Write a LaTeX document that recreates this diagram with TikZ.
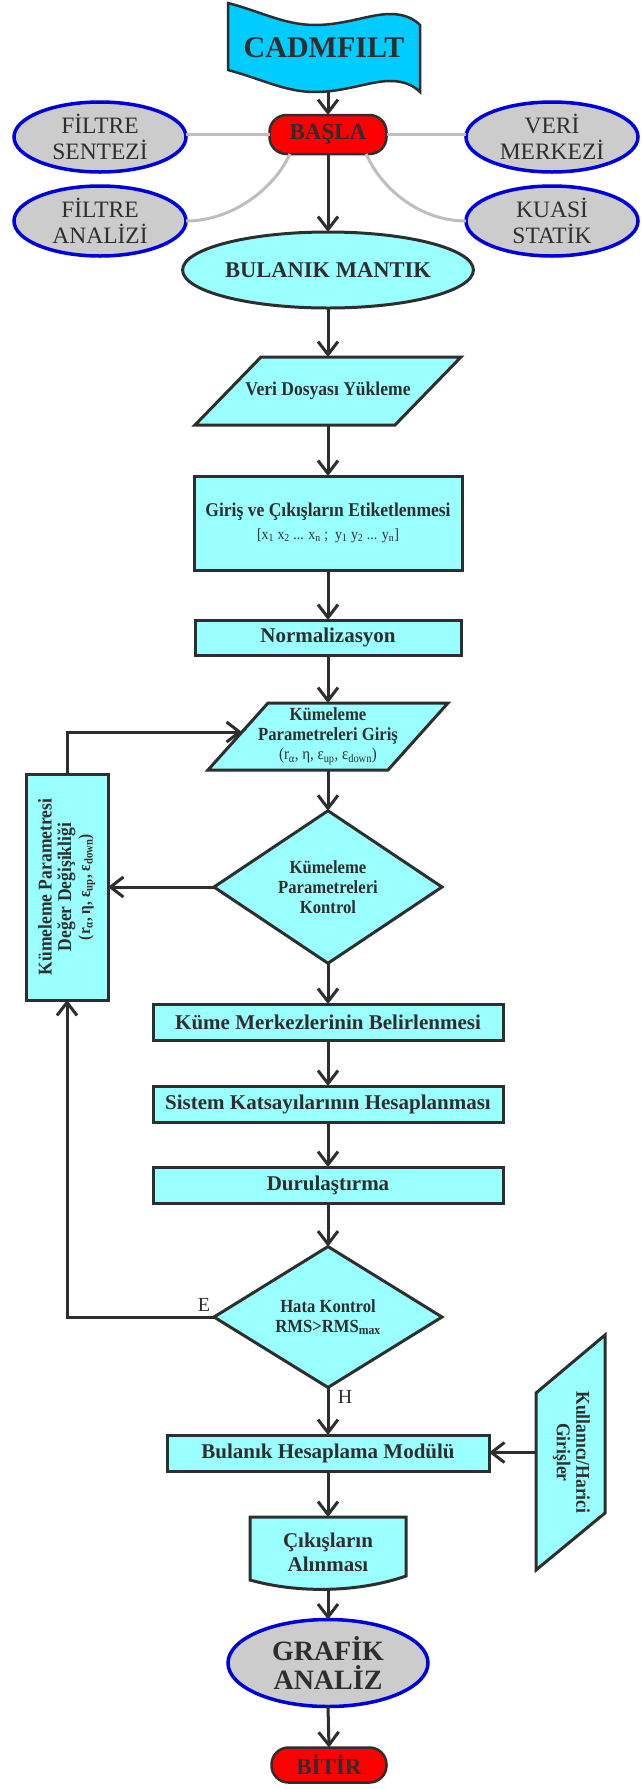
\documentclass[tikz,border=0pt]{standalone}
\usepackage{fontspec}
\usepackage{graphicx}
\setmainfont{Liberation Serif}
\newfontfamily\condfont[FakeStretch=0.9]{Liberation Serif}
\usetikzlibrary{shapes.geometric,arrows.meta}
\definecolor{cyanbox}{HTML}{99FFFF}
\definecolor{flagblue}{HTML}{00CCFF}
\definecolor{redbox}{HTML}{FF0000}
\definecolor{grayfill}{HTML}{CCCCCC}
\definecolor{blueedge}{HTML}{0000DD}
\definecolor{ink}{HTML}{2E2E2E}
\definecolor{linkgray}{HTML}{BEBEBE}
\newcommand{\fsz}[2]{\fontsize{#1}{#2}\selectfont}
\begin{document}
\begin{tikzpicture}[x=1pt,y=-1pt,
  every node/.style={text=ink,inner sep=0pt,outer sep=0pt},
  cyanshape/.style={draw=ink,line width=3pt,fill=cyanbox,line join=miter},
  procbox/.style={cyanshape,rectangle,align=center,font=\bfseries\fsz{21}{24}},
  decide/.style={cyanshape,diamond,align=center,minimum width=228pt,minimum height=136pt,font=\condfont\bfseries\fsz{18.5}{20}},
  termbox/.style={draw=ink,line width=2.5pt,fill=redbox,rectangle,rounded corners=17pt,font=\bfseries\fsz{23}{26}},
  bubble/.style={ellipse,draw=blueedge,line width=3.5pt,fill=grayfill,align=center,minimum width=172pt,minimum height=70pt,font=\fsz{23.5}{26}},
  ghost/.style={rectangle,align=center},
  arr/.style={draw=ink,line width=3pt,-{Straight Barb[length=13pt,width=20pt]}},
  link/.style={draw=linkgray,line width=3pt},
  lbl/.style={font=\fsz{20}{22}},
]
\fill[white] (0,0) rectangle (641,1789);
\useasboundingbox (0,0) rectangle (641,1789);

% ---- header flag
\draw[draw=ink,line width=2.5pt,fill=flagblue,line join=miter]
 (228,3) .. controls (262,12) and (285,25) .. (315,25)
 .. controls (345,25) and (370,14) .. (390,14)
 .. controls (405,14) and (414,19) .. (420,25) -- (420,92)
 .. controls (414,86) and (405,81) .. (390,81)
 .. controls (370,81) and (345,92) .. (315,92)
 .. controls (285,92) and (262,79) .. (228,70) -- cycle;
\node[ghost,minimum width=192pt,minimum height=89pt,font=\bfseries\fsz{30}{34}] (flag) at (324,47.5) {CADMFILT};

% ---- start
\node[termbox,minimum width=117pt,minimum height=39pt] (basla) at (328,134.5) {BAŞLA};

% ---- side bubbles
\node[bubble] (fs) at (100,137) {FİLTRE\\SENTEZİ};
\node[bubble] (fa) at (100,221) {FİLTRE\\ANALİZİ};
\node[bubble] (vm) at (552,137) {VERİ\\MERKEZİ};
\node[bubble] (ks) at (552,221) {KUASİ\\STATİK};

\draw[link] (basla.west) -- (basla.west -| fs.east);
\draw[link] (basla.east) -- (basla.east -| vm.west);
\draw[link] (basla.-153) .. controls +(-13,31) and +(49,0) .. (fa.east);
\draw[link] (basla.-27) .. controls +(13,31) and +(-49,0) .. (ks.west);

% ---- main column
\node[cyanshape,ellipse,minimum width=259pt,minimum height=76pt,font=\bfseries\fsz{22.5}{25}] (bm) at (328,270) {BULANIK MANTIK};

\draw[cyanshape] (261,357) -- (461,357) -- (395,425) -- (195,425) -- cycle;
\node[ghost,minimum width=266pt,minimum height=68pt,font=\condfont\bfseries\fsz{19.5}{20}] (vd) at (328,391) {Veri Dosyası Yükleme};

\node[procbox,minimum width=268pt,minimum height=94pt,font=\condfont\bfseries\fsz{19.5}{21}] (ge) at (328,523)
 {Giriş ve Çıkışların Etiketlenmesi\\[2pt]{\mdseries\fsz{15.5}{16}[x\textsubscript{1} x\textsubscript{2} ... x\textsubscript{n} ;\ \ y\textsubscript{1} y\textsubscript{2} ... y\textsubscript{n}]}};

\node[procbox,minimum width=266pt,minimum height=35pt] (nz) at (328,637.5) {Normalizasyon};

\draw[cyanshape] (268,703) -- (448,703) -- (388,770) -- (208,770) -- cycle;
\node[ghost,minimum width=240pt,minimum height=67pt,font=\condfont\bfseries\fsz{18.5}{19.5}] (kg) at (328,736.5)
 {Kümeleme\\Parametreleri Giriş\\{\mdseries\fsz{16.5}{17}(r\textsubscript{α}, η, ε\textsubscript{up}, ε\textsubscript{down})}};
\coordinate (kgin) at (242,732);

\node[decide] (kk) at (328,887) {Kümeleme\\Parametreleri\\Kontrol};

\node[cyanshape,rectangle,minimum width=82pt,minimum height=226pt,font=\condfont\bfseries\fsz{19.5}{19}] (kd) at (67,887)
 {\rotatebox{90}{\begin{tabular}{@{}c@{}}Kümeleme Parametresi\\Değer Değişikliği\\{\fsz{17}{17}(r\textsubscript{α}, η, ε\textsubscript{up}, ε\textsubscript{down})}\end{tabular}}};

\node[procbox,minimum width=350pt,minimum height=36pt] (km) at (328,1022) {Küme Merkezlerinin Belirlenmesi};
\node[procbox,minimum width=350pt,minimum height=36pt] (sk) at (328,1104) {Sistem Katsayılarının Hesaplanması};
\node[procbox,minimum width=350pt,minimum height=36pt] (du) at (328,1185) {Durulaştırma};

\node[decide,minimum height=134pt] (hk) at (328,1317) {Hata Kontrol\\RMS>RMS\textsubscript{max}};
\node[lbl] (elbl) at (204,1305) {E};
\node[lbl] (hlbl) at (345,1397) {H};

\node[procbox,minimum width=322pt,minimum height=36pt] (bh) at (328,1453) {Bulanık Hesaplama Modülü};

\draw[cyanshape] (536,1393) -- (605,1335) -- (605,1513) -- (536,1570) -- cycle;
\node[ghost,minimum width=69pt,minimum height=235pt,font=\condfont\bfseries\fsz{19.5}{19.5}] (ku) at (570.5,1452.5)
 {\rotatebox{-90}{\begin{tabular}{@{}c@{}}Kullanıcı/Harici\\Girişler\end{tabular}}};

\draw[cyanshape] (250,1517) -- (406,1517) -- (406,1576) .. controls (360,1592) and (300,1594) .. (250,1580) -- cycle;
\node[ghost,minimum width=156pt,minimum height=71pt,font=\bfseries\fsz{21}{24}] (ca) at (328,1552.5) {Çıkışların\\Alınması};

\node[bubble,minimum width=200pt,minimum height=87pt,font=\bfseries\fsz{28}{29}] (ga) at (328,1663) {GRAFİK\\ANALİZ};

\node[termbox,minimum width=115pt,minimum height=35pt] (bt) at (329,1765) {BİTİR};

% ---- connectors
\draw[arr] (flag.south -| basla.north) -- (basla.north);
\draw[arr] (basla.south) -- (bm.north);
\draw[arr] (bm.south) -- (vd.north);
\draw[arr] (vd.south) -- (ge.north);
\draw[arr] (ge.south) -- (nz.north);
\draw[arr] (nz.south) -- (kg.north);
\draw[arr] (kg.south) -- (kk.north);
\draw[arr] (kk.west) -- (kk.west -| kd.east);
\draw[arr] (kd.north) |- (kgin);
\draw[arr] (kk.south) -- (km.north);
\draw[arr] (km.south) -- (sk.north);
\draw[arr] (sk.south) -- (du.north);
\draw[arr] (du.south) -- (hk.north);
\draw[arr] (hk.west) -| (kd.south);
\draw[arr] (hk.south) -- (bh.north);
\draw[arr] (ku.west) -- (ku.west -| bh.east);
\draw[arr] (bh.south) -- (ca.north);
\draw[arr] (ca.south) -- (ga.north);
\draw[arr] (ga.south) -- (bt.north);
\end{tikzpicture}
\end{document}
